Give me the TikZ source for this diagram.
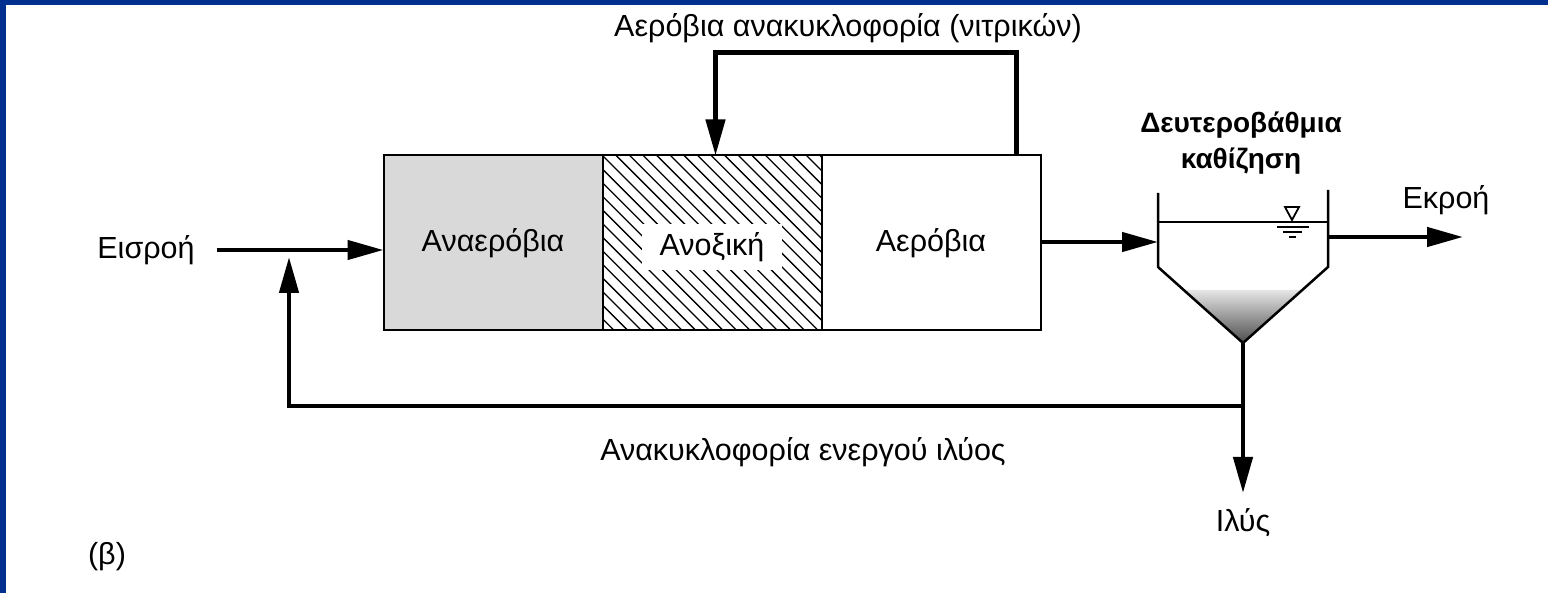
\documentclass[tikz,border=0pt]{standalone}
\usepackage{fontspec}
\setmainfont{Liberation Sans}
\usepackage{tikz}
\usetikzlibrary{arrows.meta, positioning, calc}
\definecolor{frameblue}{RGB}{0,48,143}

\begin{document}
\begin{tikzpicture}[
    x=1pt, y=-1pt,
    every node/.style={font=\fontsize{30.5}{36}\selectfont, inner sep=2pt},
    flow/.style={-{Triangle[length=36pt, width=19pt]}, line width=4.5pt, black},
    zone/.style={rectangle, draw, line width=2pt, minimum width=219pt, minimum height=175pt, inner sep=0pt, outer sep=0pt},
    hatchline/.style={line width=1.3pt},
    tank/.style={line width=2.5pt}
  ]
  % fondo y marco
  \useasboundingbox (0,0) rectangle (1548,593);
  \fill[white] (0,0) rectangle (1548,593);
  \fill[frameblue] (0,0) rectangle (1548,5);
  \fill[frameblue] (0,0) rectangle (6,593);

  % reactor
  \node[zone, fill=black!15] (anaer) at (493,243) {Αναερόβια};
  \node[zone, right=0pt of anaer, path picture={
      \foreach \k in {-14,...,16}
        \draw[hatchline] ([xshift=\k*13.6pt]path picture bounding box.north west) -- ++(200,200);
    }] (anox) {};
  \node[fill=white, inner xsep=18pt, inner ysep=8pt] (anoxlbl) at ([yshift=-4pt]anox.center) {Ανοξική};
  \node[zone, right=0pt of anox] (aer) {Αερόβια};

  % decantador
  \coordinate (clin) at (1158,242);
  \coordinate (apex) at (1243,343);
  \coordinate (clout) at (1328,237);
  \coordinate (outend) at (1463,237);
  \coordinate (drain) at (1243,493);
  \coordinate (split) at (1243,406);
  \coordinate (join) at (289,257);
  \shade[top color=black!10, bottom color=black!70] (1184,290) -- (apex) -- (1302,290) -- cycle;
  \draw[tank] (1158,193) -- (1158,267) -- (apex) -- (1328,267) -- (1328,190);
  \draw[line width=1.5pt] (1158,222) -- (1328,222);
  \draw[line width=1.8pt] (1285,207) -- (1299,207) -- (1292,220) -- cycle;
  \draw[line width=1.5pt] (1277,227) -- (1309,227) (1283,232) -- (1302,232) (1289,237) -- (1296,237);

  % textos
  \node (inflow) at (146,250) {Εισροή};
  \node (outflow) at (1446,200) {Εκροή};
  \node[font=\fontsize{28}{36}\selectfont\bfseries, align=center] (settler) at (1241,143) {Δευτεροβάθμια\\καθίζηση};
  \node (sludge) at (1243,523) {Ιλύς};
  \node (nitrlbl) at (848,28) {Αερόβια ανακυκλοφορία (νιτρικών)};
  \node (raslbl) at (803,452) {Ανακυκλοφορία ενεργού ιλύος};
  \node (figlbl) at (107,557) {(β)};

  % flechas
  \draw[flow] ([xshift=20pt]inflow.east) -- (inflow.east -| anaer.west);
  \draw[flow] ([xshift=-24pt]aer.north east) -- ++(0,-103) -| ([xshift=3.5pt]anox.north);
  \draw[flow] (aer.east |- clin) -- (clin);
  \draw[flow] (clout) -- (outend);
  \draw[flow] (apex) -- (drain);
  \draw[flow] (split) -| (join);

\end{tikzpicture}
\end{document}
